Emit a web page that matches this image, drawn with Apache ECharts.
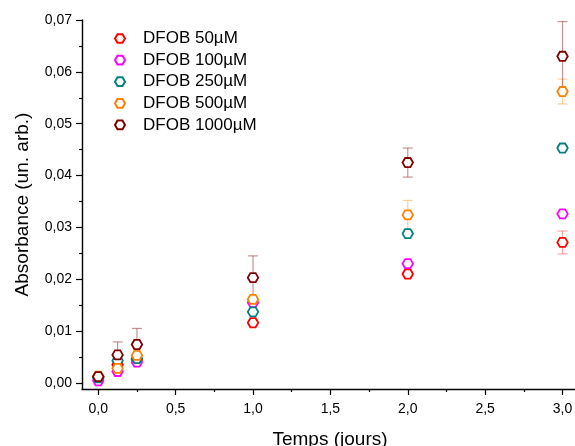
<!DOCTYPE html>
<html><head><meta charset="utf-8">
<script src="https://cdn.jsdelivr.net/npm/echarts@6/dist/echarts.min.js"></script>
<style>html,body{margin:0;padding:0;background:#fff}#c{width:575px;height:446px}</style>
</head><body><div id="c"></div>
<script>
var times = [0, 0.125, 0.25, 1, 2, 3];
var seriesNames = ['DFOB 50µM','DFOB 100µM','DFOB 250µM','DFOB 500µM','DFOB 1000µM'];
var colors = ['#ff0000','#ff00ff','#008080','#ff8000','#800000'];
var errColors = ['rgba(255,60,60,0.45)','rgba(255,60,255,0.45)','rgba(0,128,128,0.45)','rgba(255,150,40,0.45)','rgba(150,40,40,0.5)'];
var v50   = [0.0012, 0.0035, 0.0045, 0.0116, 0.0210, 0.0271];
var v100  = [0.0004, 0.0022, 0.0040, 0.0155, 0.0230, 0.0326];
var v250  = [0.0010, 0.0043, 0.0047, 0.0137, 0.0288, 0.0453];
var v500  = [0.0013, 0.0028, 0.0053, 0.0161, 0.0324, 0.0562];
var v1000 = [0.0012, 0.0054, 0.0074, 0.0203, 0.0425, 0.0630];
var e50   = [0.0002, 0.0003, 0.0003, 0.0003, 0.0004, 0.0022];
var e100  = [0.0002, 0.0002, 0.0002, 0.0003, 0.0003, 0.0003];
var e250  = [0.0002, 0.0003, 0.0003, 0.0003, 0.0004, 0.0005];
var e500  = [0.0002, 0.0003, 0.0004, 0.0005, 0.0028, 0.0024];
var e1000 = [0.0003, 0.0025, 0.0031, 0.0042, 0.0028, 0.0067];
var xMajor = [0, 0.5, 1, 1.5, 2, 2.5, 3];
var xMinor = [0.25, 0.75, 1.25, 1.75, 2.25, 2.75];
var yMajor = [0, 0.01, 0.02, 0.03, 0.04, 0.05, 0.06, 0.07];
var yMinor = [0.005, 0.015, 0.025, 0.035, 0.045, 0.055, 0.065];

var values = [v50, v100, v250, v500, v1000];
var errs = [e50, e100, e250, e500, e1000];
var hex = 'path://M-1,0 L-0.5,-0.866 L0.5,-0.866 L1,0 L0.5,0.866 L-0.5,0.866 Z';
var font = '"Liberation Sans", Arial, sans-serif';
function fmt(v, d){ return v.toFixed(d).replace('.', ','); }

var series = [];
values.forEach(function(vals, i){
  var errData = times.map(function(t, j){ return [t, vals[j], errs[i][j]]; });
  series.push({
    type: 'custom', xAxisIndex: 0, yAxisIndex: 0, z: 1, silent: true,
    data: errData,
    renderItem: function(params, api){
      var x = api.value(0), y = api.value(1), e = api.value(2);
      var top = api.coord([x, y + e]), bot = api.coord([x, y - e]);
      var c = errColors[i];
      var st = {stroke: c, lineWidth: 1.2};
      return {type: 'group', children: [
        {type: 'line', shape: {x1: top[0], y1: top[1], x2: bot[0], y2: bot[1]}, style: st},
        {type: 'line', shape: {x1: top[0]-5, y1: top[1], x2: top[0]+5, y2: top[1]}, style: st},
        {type: 'line', shape: {x1: bot[0]-5, y1: bot[1], x2: bot[0]+5, y2: bot[1]}, style: st}
      ]};
    }
  });
});
values.forEach(function(vals, i){
  series.push({
    name: seriesNames[i], type: 'scatter', xAxisIndex: 0, yAxisIndex: 0, z: 3 + i,
    symbol: hex, symbolSize: 10.5, symbolKeepAspect: true,
    itemStyle: {color: '#ffffff', borderColor: colors[i], borderWidth: 1.8, opacity: 1},
    data: times.map(function(t, j){ return [t, vals[j]]; })
  });
});

var axisLineStyle = {color: '#000', width: 1.4};
var option = {
  animation: false,
  backgroundColor: '#fff',
  grid: {left: 82, top: 20, width: 496, height: 369, outerBoundsMode: 'none', containLabel: false},
  legend: {
    data: seriesNames, orient: 'vertical', left: 114, top: 30, padding: 0,
    itemWidth: 10, itemHeight: 10, itemGap: 4.6,
    textStyle: {fontFamily: font, fontSize: 17, color: '#000', lineHeight: 10, padding: [0,0,0,13]}
  },
  xAxis: [
    {type: 'value', min: -0.105, max: 3.1, position: 'bottom',
     axisLine: {show: true, onZero: false, lineStyle: axisLineStyle},
     axisTick: {show: true, inside: false, length: 6, lineStyle: {color: '#000', width: 1.2}, customValues: xMajor},
     axisLabel: {show: true, customValues: xMajor, margin: 13, fontFamily: font, fontSize: 14, color: '#000',
       formatter: function(v){ return fmt(v, 1); }},
     splitLine: {show: false},
     name: 'Temps (jours)', nameLocation: 'middle', nameGap: 41,
     nameTextStyle: {fontFamily: font, fontSize: 19, color: '#000'}},
    {type: 'value', min: -0.105, max: 3.1, position: 'bottom',
     axisLine: {show: false, onZero: false},
     axisTick: {show: true, inside: false, length: 3, lineStyle: {color: '#000', width: 1.2}, customValues: xMinor},
     axisLabel: {show: false}, splitLine: {show: false}}
  ],
  yAxis: [
    {type: 'value', min: -0.00118, max: 0.07, position: 'left',
     axisLine: {show: true, onZero: false, lineStyle: axisLineStyle},
     axisTick: {show: true, inside: false, length: 6, lineStyle: {color: '#000', width: 1.2}, customValues: yMajor},
     axisLabel: {show: true, customValues: yMajor, margin: 10, fontFamily: font, fontSize: 14, color: '#000',
       formatter: function(v){ return fmt(v, 2); }},
     splitLine: {show: false},
     name: 'Absorbance (un. arb.)', nameLocation: 'middle', nameGap: 50, nameRotate: 90,
     nameTextStyle: {fontFamily: font, fontSize: 19, color: '#000'}},
    {type: 'value', min: -0.00118, max: 0.07, position: 'left',
     axisLine: {show: false, onZero: false},
     axisTick: {show: true, inside: false, length: 3, lineStyle: {color: '#000', width: 1.2}, customValues: yMinor},
     axisLabel: {show: false}, splitLine: {show: false}}
  ],
  series: series
};
echarts.init(document.getElementById('c')).setOption(option);
</script></body></html>
